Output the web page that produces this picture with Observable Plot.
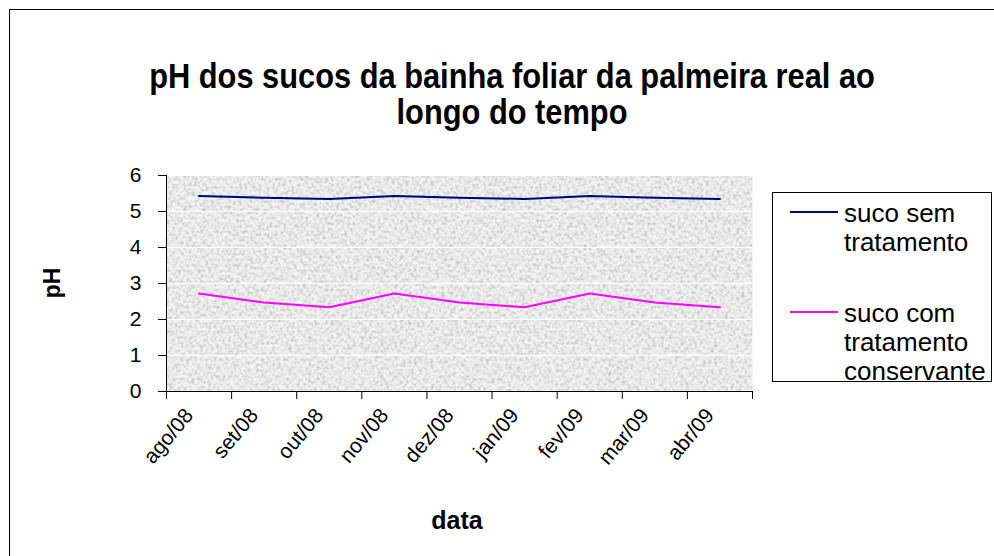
<!DOCTYPE html>
<html><head><meta charset="utf-8">
<script src="https://cdn.jsdelivr.net/npm/d3@7"></script>
<script src="https://cdn.jsdelivr.net/npm/@observablehq/plot@0.6"></script>
<style>
body{margin:0;background:#fff;font-family:"Liberation Sans",Arial,sans-serif;color:#000;}
#wrap{position:relative;width:994px;height:556px;overflow:hidden;background:#fff;}
#chart{position:absolute;left:0;top:0;}
#border{position:absolute;left:9px;top:9px;width:1000px;height:600px;border-left:1px solid #000;border-top:1px solid #000;box-shadow:-1px 0 0 #888 inset;}
#title{position:absolute;left:62px;top:58px;width:900px;text-align:center;font-weight:bold;font-size:35px;line-height:36px;transform:scaleX(0.88);transform-origin:center;white-space:nowrap;}
#ylabel{position:absolute;left:52px;top:283px;font-weight:bold;font-size:23px;transform:translate(-50%,-50%) rotate(-90deg);white-space:nowrap;}
#xlabel{position:absolute;left:457px;top:520px;font-weight:bold;font-size:25px;transform:translate(-50%,-50%);white-space:nowrap;}
#legend{position:absolute;left:772px;top:192px;width:220px;height:190px;border:1px solid #000;box-sizing:border-box;background:#fff;}
.sw{position:absolute;left:17px;width:48px;height:0;border-top:2px solid;}
.lt{position:absolute;left:71px;font-size:26px;line-height:29px;white-space:nowrap;}
</style></head><body>
<svg width="0" height="0" style="position:absolute"><defs>
<filter id="noise" x="0" y="0" width="100%" height="100%" color-interpolation-filters="sRGB">
<feTurbulence type="fractalNoise" baseFrequency="0.36" numOctaves="3" seed="7" result="t"/>
<feColorMatrix in="t" type="matrix" values="0 0 0 0 0.62  0 0 0 0 0.62  0 0 0 0 0.62  1.6 0 0 0 -0.68"/>
</filter>
<pattern id="tex" patternUnits="userSpaceOnUse" width="300" height="300">
<rect width="300" height="300" fill="#f4f4f4"/>
<rect width="300" height="300" filter="url(#noise)"/>
</pattern>
</defs></svg>
<div id="wrap">
<div id="border"></div>
<div id="chart"></div>
<div id="title"></div>
<div id="ylabel"></div>
<div id="xlabel"></div>
<div id="legend"></div>
</div>
<script>
const titleLines = ["pH dos sucos da bainha foliar da palmeira real ao", "longo do tempo"];
const yLabel = "pH";
const xLabel = "data";
const categories = ["ago/08","set/08","out/08","nov/08","dez/08","jan/09","fev/09","mar/09","abr/09"];
const semTratamento = [5.43,5.38,5.35,5.43,5.38,5.35,5.43,5.38,5.35];
const comTratamento = [2.72,2.47,2.34,2.72,2.47,2.34,2.72,2.47,2.34];
const yTicks = [0,1,2,3,4,5,6];
const seriesNames = ["suco sem tratamento","suco com tratamento conservante"];
const legendLines = [["suco sem","tratamento"],["suco com","tratamento","conservante"]];
const seriesColors = ["#000080","#ff00ff"];

const idx = categories.map((_, i) => i);
const boundaries = [-0.5, ...idx.map(i => i + 0.5)];
const rows = [
  ...semTratamento.map((v, i) => ({i, v, s: seriesNames[0]})),
  ...comTratamento.map((v, i) => ({i, v, s: seriesNames[1]}))
];

const chart = Plot.plot({
  width: 994, height: 556,
  marginLeft: 166, marginRight: 242, marginTop: 175, marginBottom: 165,
  style: {fontFamily: "Liberation Sans, Arial, sans-serif", fontSize: "20px", color: "#000", background: "transparent", overflow: "visible"},
  x: {type: "linear", domain: [-0.5, categories.length - 0.5]},
  y: {domain: [0, 6]},
  color: {domain: seriesNames, range: seriesColors},
  marks: [
    Plot.frame({fill: "url(#tex)", stroke: "none"}),
    Plot.gridY(yTicks.slice(1), {stroke: "#fff", strokeOpacity: 1, strokeWidth: 1}),
    Plot.line(rows, {x: "i", y: "v", z: "s", stroke: "s", strokeWidth: 2}),
    Plot.ruleX([-0.5], {stroke: "#000", strokeWidth: 1}),
    Plot.ruleY([0], {stroke: "#000", strokeWidth: 1}),
    Plot.axisY({ticks: yTicks, tickSize: 8, tickPadding: 17, tickFormat: d => String(d), fontSize: 21, label: null}),
    Plot.axisX({ticks: boundaries, tickSize: 8, tickFormat: () => "", label: null}),
    Plot.axisX({ticks: idx, tickSize: 0, tickPadding: 20, tickRotate: -50, tickFormat: i => categories[i], fontSize: 21, dx: -10, label: null})
  ]
});
document.getElementById("chart").appendChild(chart);

document.getElementById("title").innerHTML = titleLines.join("<br>");
document.getElementById("ylabel").textContent = yLabel;
document.getElementById("xlabel").textContent = xLabel;

const legend = document.getElementById("legend");
const entryTop = [6, 106];
const swatchTop = [18, 118];
legendLines.forEach((lines, k) => {
  const sw = document.createElement("div");
  sw.className = "sw";
  sw.style.top = swatchTop[k] + "px";
  sw.style.borderTopColor = seriesColors[k];
  legend.appendChild(sw);
  const t = document.createElement("div");
  t.className = "lt";
  t.style.top = entryTop[k] + "px";
  t.innerHTML = lines.join("<br>");
  legend.appendChild(t);
});
</script>
</body></html>
